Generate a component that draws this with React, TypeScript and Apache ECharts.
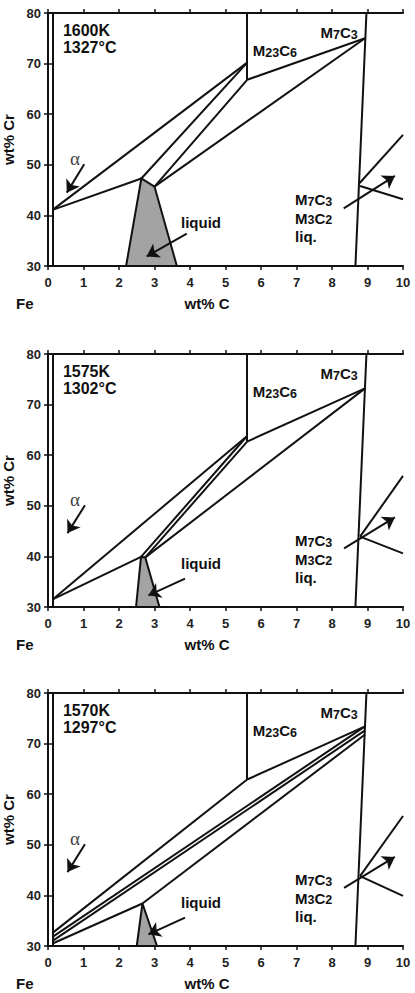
import React, { useEffect, useRef } from "react";
import * as echarts from "echarts";

const X_MIN = 0;
const X_MAX = 10;
const Y_MIN = 30;
const Y_MAX = 80;
const X_INTERVAL = 1;
const Y_INTERVAL = 10;

const TEMP_K = ["1600K", "1575K", "1570K"];
const TEMP_C = ["1327°C", "1302°C", "1297°C"];

// boundaries shared by all panels
const ALPHA_BOUNDARY = [[0.13, 30], [0.13, 80]];
const M7C3_BOUNDARY = [[8.97, 80], [8.66, 30]];

// panel 1 (1600K) phase lines
const P1_SEGMENTS = [
  [[5.61, 80], [5.61, 66.8]],
  [[0.13, 41.1], [5.61, 70.2]],
  [[0.13, 41.1], [2.63, 47.3]],
  [[2.63, 47.3], [5.61, 70.2]],
  [[3.0, 45.7], [5.61, 66.8]],
  [[3.0, 45.7], [8.93, 75.0]],
  [[5.61, 66.8], [8.93, 75.0]],
  [[8.78, 46.4], [10, 55.9]],
  [[8.79, 45.8], [10, 43.2]],
];
const P1_LIQUID = [[2.2, 30], [2.63, 47.3], [3.0, 45.7], [3.63, 30]];

// panel 2 (1575K)
const P2_SEGMENTS = [
  [[5.61, 80], [5.61, 62.7]],
  [[0.13, 31.5], [5.61, 63.8]],
  [[0.13, 31.5], [2.62, 39.9]],
  [[2.62, 39.9], [5.61, 63.8]],
  [[2.74, 39.8], [5.61, 62.7]],
  [[2.74, 39.8], [8.93, 73.2]],
  [[5.61, 62.7], [8.93, 73.2]],
  [[8.79, 43.9], [10, 55.9]],
  [[8.79, 43.9], [10, 40.6]],
];
const P2_LIQUID = [[2.48, 30], [2.62, 39.9], [2.74, 39.8], [3.14, 30]];

// panel 3 (1570K)
const P3_SEGMENTS = [
  [[5.61, 80], [5.61, 62.9]],
  [[0.13, 32.6], [5.61, 62.9]],
  [[5.61, 62.9], [8.93, 73.4]],
  [[0.13, 31.8], [8.93, 73.4]],
  [[0.13, 31.0], [8.93, 72.6]],
  [[0.13, 30.5], [2.66, 38.4]],
  [[2.66, 38.4], [8.93, 71.8]],
  [[8.79, 43.8], [10, 55.7]],
  [[8.79, 43.8], [10, 39.9]],
];
const P3_LIQUID = [[2.5, 30], [2.66, 38.4], [3.07, 30]];

// arrows: alpha, liquid, M7C3+M3C2+liq
const P1_ARROWS = [
  [[1.02, 50.1], [0.53, 44.5]],
  [[3.91, 36.4], [2.78, 31.9]],
  [[8.33, 41.4], [9.77, 47.8]],
];
const P2_ARROWS = [
  [[1.04, 50.1], [0.55, 44.6]],
  [[3.86, 35.6], [2.83, 32.3]],
  [[8.34, 41.6], [9.77, 47.7]],
];
const P3_ARROWS = [
  [[1.04, 50.1], [0.55, 44.6]],
  [[3.86, 35.6], [2.83, 32.3]],
  [[8.34, 41.5], [9.77, 47.6]],
];

const SEGMENTS = [P1_SEGMENTS, P2_SEGMENTS, P3_SEGMENTS];
const LIQUIDS = [P1_LIQUID, P2_LIQUID, P3_LIQUID];
const ARROWS = [P1_ARROWS, P2_ARROWS, P3_ARROWS];

// label anchors (data coords)
const TEMP_POS = [0.42, 74.8];
const M23C6_POS = [6.39, 72.5];
const M7C3_POS = [8.2, 76.1];
const ALPHA_POS = [0.76, 51.3];
const LIQUID_POS = [4.31, 38.6];
const TRIPLE_POS = [6.96, 39.4];

const GRID_TOPS = [13, 354, 693];
const GRID_H = 253;
const GRID_LEFT = 48;
const GRID_RIGHT = 12;

const FONT = "Liberation Sans, Arial, sans-serif";
const INK = "#111111";
const TXT = "#111111";

export default function App() {
  const ref = useRef<HTMLDivElement>(null);
  useEffect(() => {
    if (!ref.current) return;
    const chart = echarts.init(ref.current, undefined, { renderer: "svg" });

    const grid: any[] = [];
    const xAxis: any[] = [];
    const yAxis: any[] = [];
    const series: any[] = [];

    const axisLine = { show: true, lineStyle: { color: INK, width: 2 } };
    const tickStyle = { show: true, length: 4, lineStyle: { color: INK, width: 1.5 } };

    for (let i = 0; i < 3; i++) {
      grid.push({
        left: GRID_LEFT, right: GRID_RIGHT, top: GRID_TOPS[i], height: GRID_H,
        containLabel: false, outerBoundsMode: "none",
      });
      xAxis.push({
        type: "value", gridIndex: i, min: X_MIN, max: X_MAX, interval: X_INTERVAL, position: "bottom",
        axisLine, axisTick: tickStyle, splitLine: { show: false },
        axisLabel: { fontSize: 13, fontWeight: "bold", fontFamily: FONT, color: "#222", margin: 10 },
      });
      xAxis.push({
        type: "value", gridIndex: i, min: X_MIN, max: X_MAX, interval: X_INTERVAL, position: "top",
        axisLine, axisTick: tickStyle, splitLine: { show: false }, axisLabel: { show: false },
      });
      yAxis.push({
        type: "value", gridIndex: i, min: Y_MIN, max: Y_MAX, interval: Y_INTERVAL, position: "left",
        axisLine, axisTick: tickStyle, splitLine: { show: false },
        axisLabel: { fontSize: 13, fontWeight: "bold", fontFamily: FONT, color: "#222", margin: 7 },
        name: "wt% Cr", nameLocation: "middle", nameGap: 28, nameRotate: 90,
        nameTextStyle: { fontSize: 15, fontWeight: "bold", fontFamily: FONT, color: TXT },
      });
      yAxis.push({
        type: "value", gridIndex: i, min: Y_MIN, max: Y_MAX, interval: Y_INTERVAL, position: "right",
        axisLine, axisTick: tickStyle, splitLine: { show: false }, axisLabel: { show: false },
      });

      const xi = 2 * i;
      const yi = 2 * i;
      const liquid = LIQUIDS[i];

      series.push({
        type: "custom", xAxisIndex: xi, yAxisIndex: yi, clip: false, z: 2,
        data: [[liquid[0][0], liquid[0][1]]],
        renderItem: (_p: any, api: any) => ({
          type: "polygon",
          shape: { points: liquid.map((pt) => api.coord(pt)) },
          style: { fill: "#a3a3a3", stroke: INK, lineWidth: 2 },
        }),
      });

      series.push({
        type: "lines", coordinateSystem: "cartesian2d", xAxisIndex: xi, yAxisIndex: yi, z: 3,
        symbol: "none",
        lineStyle: { color: INK, width: 2, opacity: 1 },
        data: [ALPHA_BOUNDARY, M7C3_BOUNDARY, ...SEGMENTS[i]].map((c) => ({ coords: c })),
      });

      series.push({
        type: "lines", coordinateSystem: "cartesian2d", xAxisIndex: xi, yAxisIndex: yi, z: 4,
        symbol: ["none", "arrow"], symbolSize: 12,
        lineStyle: { color: INK, width: 2, opacity: 1 },
        data: ARROWS[i].map((c) => ({ coords: c })),
      });
    }

    chart.setOption({
      animation: false,
      backgroundColor: "#ffffff",
      grid,
      xAxis,
      yAxis,
      series,
    });

    // annotation texts, positioned through the axes' scales
    const rich = {
      a: { fontSize: 15, fontWeight: "bold", fontFamily: FONT, fill: TXT, lineHeight: 18.5 },
      s: { fontSize: 12.5, fontWeight: "bold", fontFamily: FONT, fill: TXT, padding: [4, 0, 0, 0], lineHeight: 18.5 },
    };
    const graphic: any[] = [];
    for (let i = 0; i < 3; i++) {
      const finder = { xAxisIndex: 2 * i, yAxisIndex: 2 * i };
      const px = (p: number[]) => chart.convertToPixel(finder as any, p) as number[];
      const boldFont = `bold 15px ${FONT}`;

      const tp = px(TEMP_POS);
      graphic.push({
        type: "text", x: tp[0], y: tp[1], z: 10,
        style: {
          text: TEMP_K[i] + "\n" + TEMP_C[i], font: `bold 16px ${FONT}`, fill: TXT,
          lineHeight: 17, align: "left", verticalAlign: "middle",
        },
      });
      const m23 = px(M23C6_POS);
      graphic.push({
        type: "text", x: m23[0], y: m23[1], z: 10,
        style: { text: "{a|M}{s|23}{a|C}{s|6}", rich, align: "center", verticalAlign: "middle" },
      });
      const m7 = px(M7C3_POS);
      graphic.push({
        type: "text", x: m7[0], y: m7[1], z: 10,
        style: { text: "{a|M}{s|7}{a|C}{s|3}", rich, align: "center", verticalAlign: "middle" },
      });
      const al = px(ALPHA_POS);
      graphic.push({
        type: "text", x: al[0], y: al[1], z: 10,
        style: { text: "α", font: `19px Liberation Serif, serif`, fill: "#444", align: "center", verticalAlign: "middle" },
      });
      const lq = px(LIQUID_POS);
      graphic.push({
        type: "text", x: lq[0], y: lq[1], z: 10,
        style: { text: "liquid", font: boldFont, fill: TXT, align: "center", verticalAlign: "middle" },
      });
      const tr = px(TRIPLE_POS);
      graphic.push({
        type: "text", x: tr[0], y: tr[1], z: 10,
        style: {
          text: "{a|M}{s|7}{a|C}{s|3}\n{a|M}{s|3}{a|C}{s|2}\n{a|liq.}", rich,
          align: "left", verticalAlign: "middle",
        },
      });

      const ny = GRID_TOPS[i] + GRID_H + 37;
      graphic.push({
        type: "text", x: 16, y: ny,
        style: { text: "Fe", font: boldFont, fill: TXT, align: "left", verticalAlign: "middle" },
      });
      graphic.push({
        type: "text", x: 207, y: ny,
        style: { text: "wt% C", font: boldFont, fill: TXT, align: "center", verticalAlign: "middle" },
      });
    }
    chart.setOption({ graphic });

    return () => chart.dispose();
  }, []);

  return (
    <div
      ref={ref}
      style={{ position: "fixed", left: 0, top: 0, width: 415, height: 993, background: "#fff" }}
    />
  );
}
